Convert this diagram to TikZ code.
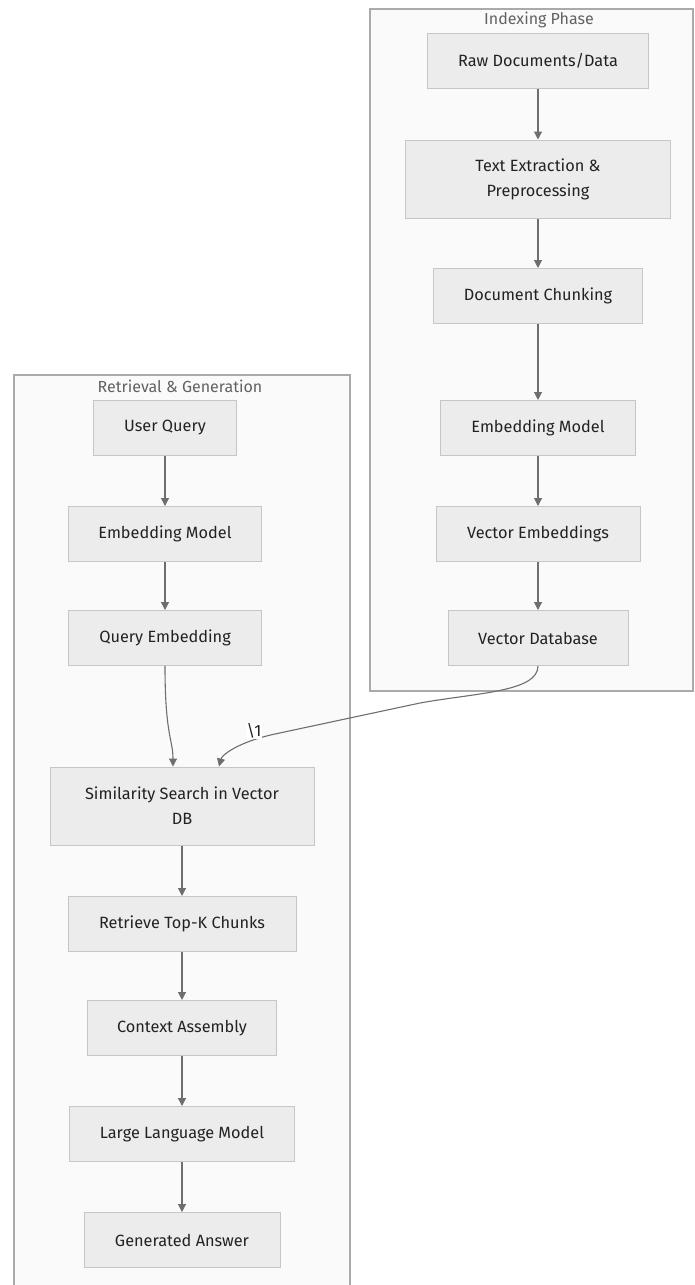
\documentclass[tikz,border=0pt]{standalone}
\usepackage{fontspec}
\setmainfont{Fira Sans}
\usetikzlibrary{positioning,arrows.meta}
\definecolor{boxfill}{HTML}{ECECEC}
\definecolor{boxline}{HTML}{C6C6C6}
\definecolor{grpfill}{HTML}{FAFAFA}
\definecolor{grpline}{HTML}{AAAAAA}
\definecolor{edgecol}{HTML}{6E6E6E}
\definecolor{txtcol}{HTML}{222222}
\tikzset{
  every picture/.style={line width=1pt},
  proc/.style={draw=boxline,fill=boxfill,rectangle,minimum height=55pt,inner sep=0pt,align=center,font=\fontsize{16.3}{25}\selectfont,text=txtcol},
  grp/.style={draw=grpline,fill=grpfill,line width=1.3pt},
  grptitle/.style={font=\fontsize{16}{18}\selectfont,text=black!62,inner sep=0pt},
  flow/.style={-{Triangle[length=8pt,width=8pt]},draw=edgecol,line width=1.1pt},
  lbl/.style={font=\fontsize{16.3}{18}\selectfont,fill=white,inner sep=1pt,text=txtcol},
}

\begin{document}
\begin{tikzpicture}[x=1pt,y=-1pt]
\useasboundingbox (0,0) rectangle (694,1285);
% indexing phase
\draw[grp] (370,9) rectangle (693,691);
\node[grptitle] (tix) at (539,20) {Indexing Phase};
\node[proc,minimum width=221pt] (raw) at (538,61) {Raw Documents/Data};
\node[proc,minimum width=265pt,minimum height=78pt] (ext) at (538,179) {Text Extraction \&\\Preprocessing};
\node[proc,minimum width=209pt] (chk) at (538,296) {Document Chunking};
\node[proc,minimum width=195pt] (emi) at (538,428) {Embedding Model};
\node[proc,minimum width=204pt] (vem) at (538,534) {Vector Embeddings};
\node[proc,minimum width=180pt] (vdb) at (538,638) {Vector Database};
\draw[flow] (raw) -- (ext);
\draw[flow] (ext) -- (chk);
\draw[flow] (chk) -- (emi);
\draw[flow] (emi) -- (vem);
\draw[flow] (vem) -- (vdb);
% retrieval & generation
\draw[grp] (14,1292) -- (14,375) -- (350,375) -- (350,1292);
\fill[grpfill] (14.65,375.65) rectangle (349.35,1292);
\node[grptitle] (trg) at (180,386) {Retrieval \& Generation};
\node[proc,minimum width=143pt] (usr) at (165,428) {User Query};
\node[proc,minimum width=193pt] (emq) at (165,534) {Embedding Model};
\node[proc,minimum width=193pt] (qem) at (165,638) {Query Embedding};
\node[proc,minimum width=264pt,minimum height=78pt] (sim) at (182,806) {Similarity Search in Vector\\DB};
\node[proc,minimum width=228pt] (top) at (182,924) {Retrieve Top-K Chunks};
\node[proc,minimum width=189pt] (ctx) at (182,1028) {Context Assembly};
\node[proc,minimum width=225pt] (llm) at (182,1134) {Large Language Model};
\node[proc,minimum width=196pt] (ans) at (182,1240) {Generated Answer};
\draw[flow] (usr) -- (emq);
\draw[flow] (emq) -- (qem);
\draw[flow] (qem.south) .. controls (165,735) and (173,740) .. ([xshift=-9pt]sim.north);
\draw[flow] (sim) -- (top);
\draw[flow] (top) -- (ctx);
\draw[flow] (ctx) -- (llm);
\draw[flow] (llm) -- (ans);
% link between phases
\draw[flow] (vdb.south) .. controls (538,692) and (475,693) .. (420,703)
  -- (275,734) .. controls (238,742) and (222,755) .. ([xshift=37pt]sim.north);
\node[lbl] (ref) at (254,731) {\textbackslash 1};
\end{tikzpicture}
\end{document}
